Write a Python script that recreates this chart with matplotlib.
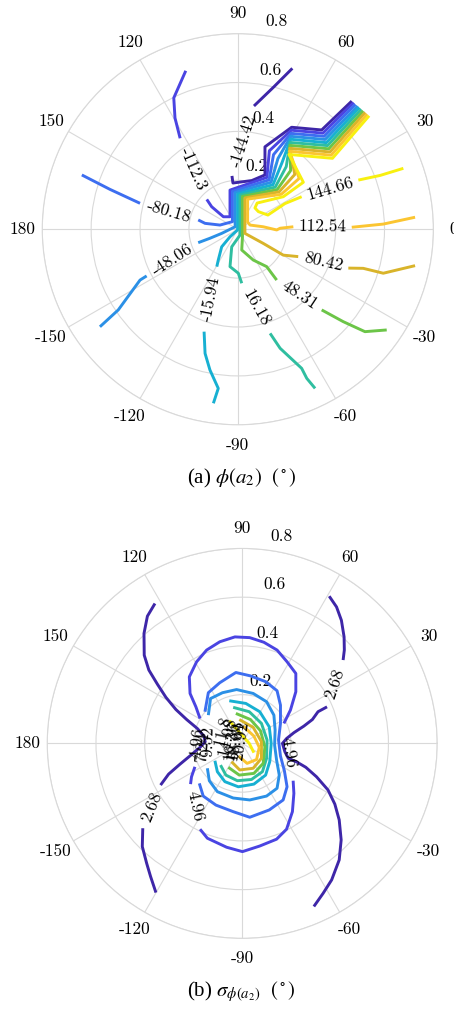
import numpy as np
import matplotlib
matplotlib.use("Agg")
import matplotlib.pyplot as plt

plt.rcParams["font.family"] = "cmr10"
plt.rcParams["axes.unicode_minus"] = False
plt.rcParams["mathtext.fontset"] = "cm"

# ---------------------------------------------------------------------------
# data (contour pieces, x / y in units of r)
# ---------------------------------------------------------------------------
theta_ticks = np.arange(0, 360, 30)
theta_labels = ["0", "30", "60", "90", "120", "150", "180",
                "-150", "-120", "-90", "-60", "-30"]
r_ticks = [0.2, 0.4, 0.6, 0.8]

# (a) phase of a2, one curve per level, pieces split where the label sits
phi_levels = [-144.42, -112.30, -80.18, -48.06, -15.94,
              16.18, 48.31, 80.42, 112.54, 144.66]

phi_m144 = [[
    [(0.466, 0.524), (0.343, 0.406), (0.220, 0.417), (0.111, 0.337), (0.111, 0.222),
     (0.057, 0.199), (-0.020, 0.189), (-0.024, 0.218)],
    [(0.066, 0.504), (0.145, 0.580), (0.223, 0.658)],
]]
phi_m112 = [[
    [(0.474, 0.518), (0.348, 0.393), (0.219, 0.405), (0.129, 0.321), (0.119, 0.212),
     (-0.032, 0.160), (-0.032, 0.051), (-0.059, 0.051), (-0.107, 0.092), (-0.127, 0.122)],
    [(-0.236, 0.372), (-0.257, 0.455), (-0.262, 0.537), (-0.213, 0.648)],
]]
phi_m80 = [[
    [(0.481, 0.511), (0.353, 0.380), (0.218, 0.392), (0.146, 0.305), (0.128, 0.202),
     (-0.022, 0.155), (-0.022, 0.031), (-0.073, 0.017), (-0.134, 0.024), (-0.162, 0.038)],
    [(-0.400, 0.106), (-0.523, 0.163), (-0.638, 0.222)],
]]
phi_m48 = [[
    [(0.490, 0.504), (0.357, 0.367), (0.217, 0.380), (0.164, 0.289), (0.136, 0.192),
     (-0.011, 0.150), (-0.011, 0.010), (-0.066, -0.017), (-0.114, -0.037), (-0.162, -0.055)],
    [(-0.373, -0.191), (-0.400, -0.208), (-0.489, -0.330), (-0.564, -0.399)],
]]
phi_m16 = [[
    [(0.497, 0.498), (0.362, 0.354), (0.216, 0.368), (0.181, 0.273), (0.144, 0.182),
     (-0.001, 0.144), (-0.001, -0.003), (-0.032, -0.031), (-0.066, -0.072),
     (-0.080, -0.126), (-0.086, -0.153)],
    [(-0.138, -0.419), (-0.134, -0.508), (-0.114, -0.576), (-0.080, -0.651), (-0.100, -0.712)],
]]
phi_p16 = [[
    [(0.505, 0.491), (0.367, 0.342), (0.214, 0.355), (0.198, 0.256), (0.153, 0.172),
     (0.009, 0.139), (0.009, -0.024), (-0.025, -0.072), (-0.032, -0.153),
     (0.002, -0.180), (0.016, -0.221)],
    [(0.132, -0.426), (0.173, -0.487), (0.261, -0.569), (0.282, -0.610), (0.316, -0.651)],
]]
phi_p48 = [[
    [(0.513, 0.484), (0.372, 0.329), (0.213, 0.343), (0.216, 0.240), (0.161, 0.162),
     (0.019, 0.134), (0.019, -0.031), (0.016, -0.085), (0.063, -0.126),
     (0.118, -0.153), (0.159, -0.208)],
    [(0.343, -0.330), (0.431, -0.378), (0.520, -0.419), (0.609, -0.412)],
]]
phi_p80 = [[
    [(0.521, 0.478), (0.377, 0.316), (0.212, 0.331), (0.233, 0.224), (0.169, 0.153),
     (0.029, 0.128), (0.029, -0.017), (0.104, -0.058), (0.186, -0.106), (0.247, -0.112)],
    [(0.452, -0.159), (0.513, -0.160), (0.595, -0.180), (0.725, -0.149)],
]]
phi_p112 = [[
    [(0.529, 0.471), (0.382, 0.303), (0.211, 0.319), (0.251, 0.208), (0.178, 0.143),
     (0.040, 0.123), (0.040, 0.029), (0.050, 0.017), (0.104, 0.010), (0.159, -0.003),
     (0.173, 0.004), (0.227, 0.010)],
    [(0.466, 0.008), (0.595, 0.021), (0.725, 0.049)],
]]
phi_p144 = [[
    [(0.537, 0.464), (0.387, 0.290), (0.209, 0.306), (0.268, 0.192), (0.186, 0.133),
     (0.079, 0.107), (0.070, 0.087), (0.084, 0.072), (0.123, 0.058), (0.193, 0.105),
     (0.261, 0.133)],
    [(0.493, 0.201), (0.582, 0.220), (0.677, 0.249)],
]]
phi_curves = [phi_m144, phi_m112, phi_m80, phi_m48, phi_m16,
              phi_p16, phi_p48, phi_p80, phi_p112, phi_p144]
phi_closed = [False] * 10

# (b) spread of the phase
sig_levels = [2.68, 4.96, 7.24, 9.52, 11.8, 14.08, 16.36, 18.64, 20.92, 23.2]

sig_2_68 = [
    [[(-0.358, 0.574), (-0.389, 0.522), (-0.403, 0.451), (-0.402, 0.362), (-0.383, 0.301),
      (-0.348, 0.243), (-0.313, 0.189), (-0.272, 0.139), (-0.228, 0.098), (-0.184, 0.061),
      (-0.157, 0.030), (-0.152, 0.007), (-0.173, -0.016), (-0.214, -0.051),
      (-0.255, -0.085), (-0.302, -0.126), (-0.335, -0.171)],
     [(-0.408, -0.348), (-0.410, -0.423), (-0.392, -0.492), (-0.376, -0.546), (-0.354, -0.612)]],
    [[(0.357, 0.604), (0.387, 0.560), (0.407, 0.505), (0.418, 0.437), (0.419, 0.383),
      (0.414, 0.342)],
     [(0.348, 0.150), (0.311, 0.130), (0.288, 0.098), (0.253, 0.071), (0.212, 0.044),
      (0.182, 0.020), (0.165, 0.000), (0.175, -0.034), (0.189, -0.061), (0.227, -0.078),
      (0.261, -0.098), (0.305, -0.137), (0.352, -0.191), (0.380, -0.249), (0.398, -0.314),
      (0.406, -0.396), (0.398, -0.478), (0.367, -0.560), (0.332, -0.615), (0.294, -0.669)]],
]
sig_4_96 = [[
    [(0.171, 0.082), (0.198, 0.137), (0.220, 0.212), (0.220, 0.287), (0.184, 0.335),
     (0.143, 0.383), (0.089, 0.415), (0.031, 0.434), (-0.030, 0.437), (-0.092, 0.417),
     (-0.146, 0.383), (-0.187, 0.335), (-0.217, 0.273), (-0.214, 0.205), (-0.190, 0.150),
     (-0.173, 0.102)],
    [(-0.194, -0.096), (-0.208, -0.137), (-0.212, -0.167)],
    [(-0.173, -0.352), (-0.143, -0.389), (-0.064, -0.426), (0.001, -0.444), (0.072, -0.421),
     (0.141, -0.393), (0.182, -0.352), (0.206, -0.280), (0.212, -0.205), (0.209, -0.153)],
]]
sig_7_24 = [[
    [(-0.153, 0.130), (-0.139, 0.208), (-0.092, 0.249), (-0.026, 0.291), (0.034, 0.277),
     (0.097, 0.253), (0.143, 0.216), (0.157, 0.157), (0.157, 0.082), (0.149, 0.014),
     (0.157, -0.052), (0.173, -0.112), (0.184, -0.178), (0.168, -0.232), (0.111, -0.273),
     (0.031, -0.303), (-0.037, -0.280), (-0.108, -0.253), (-0.160, -0.216), (-0.176, -0.164)],
]]
sig_9_52 = [[
    [(-0.139, 0.116), (-0.130, 0.184), (-0.081, 0.208), (-0.023, 0.221), (0.045, 0.205),
     (0.100, 0.171), (0.130, 0.116), (0.135, 0.055), (0.133, -0.007), (0.141, -0.068),
     (0.152, -0.130), (0.143, -0.184), (0.100, -0.216), (0.031, -0.232), (-0.037, -0.224),
     (-0.102, -0.198), (-0.135, -0.153), (-0.143, -0.102)],
]]
sig_11_8 = [[
    [(-0.053, 0.175), (0.015, 0.164), (0.072, 0.130), (0.111, 0.068), (0.119, 0.000),
     (0.113, -0.075), (0.096, -0.130), (0.048, -0.167), (-0.016, -0.178), (-0.071, -0.157),
     (-0.102, -0.116), (-0.112, -0.071)],
]]
sig_14_08 = [[
    [(-0.037, 0.148), (0.029, 0.130), (0.079, 0.082), (0.102, 0.014), (0.100, -0.061),
     (0.083, -0.116), (0.038, -0.148), (-0.020, -0.153), (-0.067, -0.130), (-0.089, -0.089)],
]]
sig_16_36 = [[
    [(-0.026, 0.123), (0.034, 0.098), (0.075, 0.052), (0.093, -0.014), (0.086, -0.082),
     (0.048, -0.123), (-0.012, -0.130), (-0.057, -0.098)],
]]
sig_18_64 = [[
    [(-0.012, 0.098), (0.045, 0.066), (0.079, 0.007), (0.079, -0.061), (0.045, -0.102),
     (-0.010, -0.109), (-0.044, -0.075)],
]]
sig_20_92 = [[
    [(0.004, 0.071), (0.048, 0.030), (0.070, -0.016), (0.059, -0.066), (0.020, -0.082),
     (-0.015, -0.052)],
]]
sig_23_2 = [[
    [(-0.053, 0.093), (-0.010, 0.044), (0.029, 0.000), (0.048, -0.038)],
]]
sig_curves = [sig_2_68, sig_4_96, sig_7_24, sig_9_52, sig_11_8,
              sig_14_08, sig_16_36, sig_18_64, sig_20_92, sig_23_2]
sig_closed = [False, True, True, True, True, True, True, True, True, False]

# parula-like colours, one per level
level_colors = ["#3e26a8", "#4a44e2", "#3d6ef0", "#2b90e6", "#17b0d2",
                "#2fbea0", "#6cc548", "#d9b42a", "#fbc531", "#f8f010"]

GRID = "#d9d9d9"
FS = 12.5
LW = 2.1


def setup_polar(ax):
    ax.set_ylim(0, 0.8)
    ax.set_yticks(r_ticks)
    ax.set_yticklabels([])
    ax.set_thetagrids(theta_ticks, theta_labels, fontsize=FS)
    ax.tick_params(axis="x", pad=7.5, length=0)
    ax.grid(True, color=GRID, lw=0.8)
    ax.spines["polar"].set_color(GRID)
    ax.spines["polar"].set_linewidth(0.8)
    for r in r_ticks:
        ax.annotate(f"{r:g}", xy=(np.deg2rad(82), r), xytext=(8.6, 10.1),
                    textcoords="offset points", ha="center", va="center",
                    fontsize=FS)


def draw_contours(ax, levels, curves, closed):
    for k, (lev, lev_curves) in enumerate(zip(levels, curves)):
        col = level_colors[k]
        for curve in lev_curves:
            segs = [np.array(s, dtype=float) for s in curve]
            for s in segs:
                ax.plot(np.arctan2(s[:, 1], s[:, 0]), np.hypot(s[:, 0], s[:, 1]),
                        color=col, lw=LW, solid_joinstyle="round",
                        solid_capstyle="butt", zorder=3)
            gaps = list(zip(segs[:-1], segs[1:]))
            if closed[k]:
                gaps.append((segs[-1], segs[0]))
            for a, b in gaps:
                p, q = a[-1], b[0]
                mx, my = (p + q) / 2
                ang = np.degrees(np.arctan2(q[1] - p[1], q[0] - p[0]))
                if ang > 90:
                    ang -= 180
                elif ang <= -90:
                    ang += 180
                ax.text(np.arctan2(my, mx), np.hypot(mx, my), f"{lev:g}",
                        rotation=ang, rotation_mode="anchor", ha="center",
                        va="center", fontsize=FS, zorder=5)


fig = plt.figure(figsize=(4.54, 10.10), dpi=100)

ax1 = fig.add_axes([0.0930, 0.5794, 0.8617, 0.3873], projection="polar")
setup_polar(ax1)
draw_contours(ax1, phi_levels, phi_curves, phi_closed)

ax2 = fig.add_axes([0.1040, 0.0709, 0.8590, 0.3861], projection="polar")
setup_polar(ax2)
draw_contours(ax2, sig_levels, sig_curves, sig_closed)

fig.text(0.532, 0.5267, r"(a) $\phi(a_2)$  $(^\circ)$", ha="center", va="center",
         fontsize=15, family="Liberation Serif", math_fontfamily="stix")
fig.text(0.532, 0.0178, r"(b) $\sigma_{\phi(a_2)}$  $(^\circ)$", ha="center",
         va="center", fontsize=15, family="Liberation Serif", math_fontfamily="stix")

fig.savefig("out.png", dpi=100)
